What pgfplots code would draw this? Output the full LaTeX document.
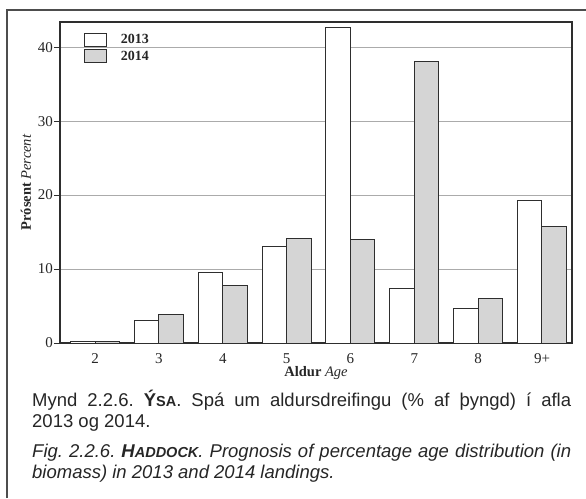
\documentclass[border=0pt]{standalone}
\usepackage{pgfplots}
\pgfplotsset{compat=1.18}
\usepackage{fontspec}
\setmainfont{Liberation Serif}
\newfontfamily\capfont{Liberation Sans}
\definecolor{edge}{HTML}{2E2E2E}
\definecolor{fillB}{HTML}{D5D5D5}
\definecolor{gridc}{HTML}{ABABAB}
\definecolor{txt}{HTML}{262626}
\newcommand\fsc[2]{#1{\fontsize{14.5}{16}\selectfont #2}}
\hbadness=10000
\frenchspacing
\begin{document}
\begin{tikzpicture}
\path[use as bounding box] (0pt,0pt) rectangle (586pt,-498pt);
\draw[edge!85, line width=1.2pt] (7pt,-498pt) -- (7pt,-10pt) -- (586pt,-10pt);
\begin{axis}[
  at={(60pt,-22pt)}, anchor=north west,
  scale only axis, width=512pt, height=321pt,
  xmin=-0.55, xmax=7.47, ymin=0, ymax=43.4,
  ybar=0pt, bar width=24.5pt,
  xtick={0,...,7}, xticklabels={2,3,4,5,6,7,8,9+},
  xtick style={draw=none},
  ytick={0,10,20,30,40},
  ytick pos=left, tick align=outside, major tick length=6pt,
  ymajorgrids, grid style={gridc, line width=0.9pt},
  axis line style={edge, line width=1.1pt},
  tick style={edge, line width=1pt},
  tick label style={font=\fontsize{15}{17}\selectfont, text=txt},
  yticklabel style={inner sep=1pt},
  xticklabel style={anchor=base, yshift=-14pt, inner sep=0pt},
  /pgf/number format/assume math mode=true,
  xlabel={\textbf{Aldur} \textit{Age}},
  ylabel={\textbf{Prósent} \textit{Percent}},
  label style={font=\fontsize{14.5}{16}\selectfont, text=txt},
  xlabel style={at={(axis description cs:0.5,-0.1028)}, anchor=base},
  ylabel style={at={(axis description cs:-0.057,0.5)}, anchor=base},
  legend style={at={(axis description cs:0.046,0.969)}, anchor=north west,
    draw=none, fill=none, font=\bfseries\fontsize{14}{16}\selectfont,
    text=txt, row sep=2pt, inner sep=0pt,
    /tikz/every odd column/.append style={column sep=12pt}},
  legend cell align=left,
  legend image code/.code={\draw[#1] (0pt,-6.5pt) rectangle (22pt,6.5pt);},
]
\addplot[draw=edge, fill=white, line width=1pt]
  coordinates {(0,0.15) (1,3.0) (2,9.55) (3,13.0) (4,42.7) (5,7.4) (6,4.7) (7,19.3)};
\addplot[draw=edge, fill=fillB, line width=1pt]
  coordinates {(0,0.15) (1,3.8) (2,7.8) (3,14.1) (4,14.05) (5,38.0) (6,6.0) (7,15.7)};
\legend{2013,2014}
\end{axis}
\begin{scope}[every node/.style={inner sep=0pt, anchor=base west, text=txt, font=\capfont\fontsize{18.5}{21}\selectfont}]
\node at (32pt,-406pt) {\makebox[539pt][s]{Mynd 2.2.6. \textbf{\fsc{Ý}{SA}}. Spá um aldursdreifingu (\% af þyngd) í afla}};
\node at (32pt,-427pt) {2013 og 2014.};
\node at (32pt,-457pt) {\makebox[539pt][s]{\itshape Fig. 2.2.6. \textbf{\fsc{H}{ADDOCK}}. Prognosis of percentage age distribution (in}};
\node at (32pt,-478pt) {\itshape biomass) in 2013 and 2014 landings.};
\end{scope}
\end{tikzpicture}
\end{document}
